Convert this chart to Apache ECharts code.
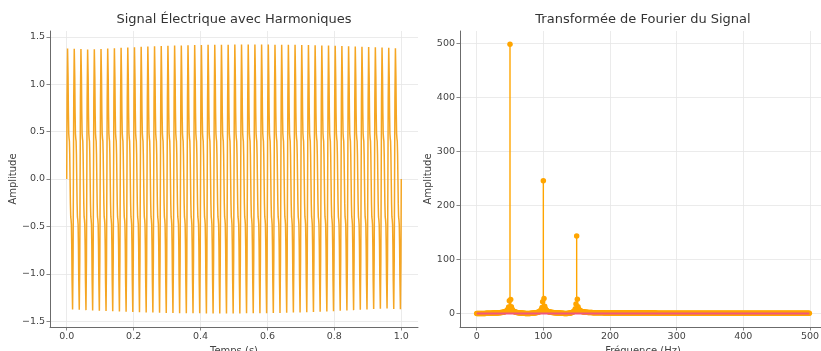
<!DOCTYPE html>
<html>
<head>
<meta charset="utf-8">
<script src="https://cdn.jsdelivr.net/npm/echarts@6/dist/echarts.min.js"></script>
<style>
html,body{margin:0;padding:0;background:#ffffff;}
#chart{width:821px;height:351px;}
</style>
</head>
<body>
<div id="chart"></div>
<script>
// ---------- Texts ----------
const leftTitle = 'Signal Électrique avec Harmoniques';
const rightTitle = 'Transformée de Fourier du Signal';
const leftXName = 'Temps (s)';
const rightXName = 'Fréquence (Hz)';
const yName = 'Amplitude';

// ---------- Tick values ----------
const timeTicks = [0.0, 0.2, 0.4, 0.6, 0.8, 1.0];
const signalTicks = [-1.5, -1.0, -0.5, 0.0, 0.5, 1.0, 1.5];
const freqTicks = [0, 100, 200, 300, 400, 500];
const fftTicks = [0, 100, 200, 300, 400, 500];

// ---------- Time signal (50 cycles) ----------
const cyclePeriodS = 0.02;
const signalEndTime = 1.0;
// shape of one cycle between its peak and trough (ms offsets within the cycle)
const waveOffsetsMs = [0, 1, 2.5, 4, 5, 6, 7, 8, 9, 10, 11, 12, 13, 14, 15, 16, 17.5, 19];
const waveShape = [0, 0.85, 'P', 1.07, 0.70, 0.48, 0.43, 0.40, 0.26, 0, -0.26, -0.40, -0.43, -0.48, -0.70, -1.07, 'T', -0.85];
const cyclePeaks = [1.378,1.375,1.371,1.366,1.368,1.372,1.376,1.380,1.384,1.388,
  1.391,1.395,1.398,1.401,1.404,1.406,1.408,1.410,1.412,1.414,
  1.415,1.416,1.417,1.418,1.418,1.419,1.419,1.419,1.419,1.419,
  1.419,1.418,1.418,1.417,1.416,1.415,1.414,1.412,1.410,1.408,
  1.406,1.404,1.401,1.399,1.396,1.393,1.390,1.387,1.384,1.381];
const cycleTroughs = [-1.378,-1.381,-1.384,-1.387,-1.390,-1.393,-1.396,-1.399,-1.401,-1.404,
  -1.406,-1.408,-1.410,-1.412,-1.414,-1.415,-1.416,-1.417,-1.418,-1.418,
  -1.419,-1.419,-1.419,-1.419,-1.419,-1.419,-1.418,-1.418,-1.417,-1.416,
  -1.415,-1.414,-1.412,-1.410,-1.408,-1.406,-1.404,-1.401,-1.398,-1.395,
  -1.391,-1.388,-1.384,-1.380,-1.376,-1.372,-1.368,-1.366,-1.371,-1.375];

// ---------- FFT amplitudes, one per 1 Hz bin (0..499 Hz) ----------
const fftBinHz = 1;
const fftAmplitude = [
0.0,0.0,0.1,0.1,0.1,0.1,0.2,0.2,0.2,0.2,
0.3,0.3,0.3,0.3,0.4,0.4,0.5,0.5,0.5,0.6,
0.6,0.6,0.7,0.7,0.8,0.8,0.9,0.9,1.0,1.1,
1.2,1.2,1.3,1.4,1.5,1.6,1.8,1.9,2.1,2.3,
2.5,2.8,3.2,3.6,4.2,5.0,6.3,8.3,12.3,23.9,
498.4,26.0,12.5,8.2,6.1,4.8,3.9,3.3,2.8,2.4,
2.1,1.9,1.7,1.5,1.3,1.2,1.1,0.9,0.8,0.7,
0.6,0.5,0.4,0.3,0.3,0.2,0.1,0.0,0.1,0.2,
0.3,0.4,0.5,0.6,0.7,0.8,1.0,1.1,1.3,1.5,
1.8,2.1,2.4,2.9,3.5,4.3,5.5,7.4,11.2,21.9,
245.7,27.8,13.4,8.9,6.7,5.4,4.5,3.9,3.4,3.0,
2.7,2.5,2.3,2.1,1.9,1.8,1.6,1.5,1.4,1.3,
1.2,1.1,1.0,1.0,0.9,0.8,0.7,0.6,0.6,0.5,
0.4,0.3,0.2,0.1,0.0,0.1,0.3,0.4,0.5,0.7,
0.9,1.2,1.5,1.9,2.4,3.1,4.1,5.8,9.0,17.8,
143.7,26.6,12.7,8.6,6.6,5.5,4.7,4.1,3.7,3.4,
3.1,2.9,2.7,2.6,2.5,2.3,2.2,2.1,2.1,2.0,
1.9,1.9,1.8,1.8,1.7,1.7,1.6,1.6,1.6,1.5,
1.5,1.5,1.4,1.4,1.4,1.4,1.3,1.3,1.3,1.3,
1.3,1.2,1.2,1.2,1.2,1.2,1.1,1.1,1.1,1.1,
1.1,1.1,1.1,1.0,1.0,1.0,1.0,1.0,1.0,1.0,
1.0,1.0,1.0,1.0,0.9,0.9,0.9,0.9,0.9,0.9,
0.9,0.9,0.9,0.9,0.9,0.9,0.9,0.9,0.9,0.9,
0.9,0.8,0.8,0.8,0.8,0.8,0.8,0.8,0.8,0.8,
0.8,0.8,0.8,0.8,0.8,0.8,0.8,0.8,0.8,0.8,
0.8,0.8,0.8,0.8,0.8,0.8,0.8,0.8,0.8,0.8,
0.8,0.8,0.8,0.8,0.8,0.8,0.8,0.8,0.8,0.8,
0.7,0.7,0.7,0.7,0.7,0.7,0.7,0.7,0.7,0.7,
0.7,0.7,0.7,0.7,0.7,0.7,0.7,0.7,0.7,0.7,
0.7,0.7,0.7,0.7,0.7,0.7,0.7,0.7,0.7,0.7,
0.7,0.7,0.7,0.7,0.7,0.7,0.7,0.7,0.7,0.7,
0.7,0.7,0.7,0.7,0.7,0.7,0.7,0.7,0.7,0.7,
0.7,0.7,0.7,0.7,0.7,0.7,0.7,0.7,0.7,0.7,
0.6,0.6,0.6,0.6,0.6,0.6,0.6,0.6,0.6,0.6,
0.6,0.6,0.6,0.6,0.6,0.6,0.6,0.6,0.6,0.6,
0.6,0.6,0.6,0.6,0.6,0.6,0.6,0.6,0.6,0.6,
0.6,0.6,0.6,0.6,0.6,0.6,0.6,0.6,0.6,0.6,
0.6,0.6,0.6,0.6,0.6,0.6,0.6,0.6,0.6,0.6,
0.6,0.6,0.6,0.6,0.6,0.6,0.6,0.6,0.6,0.6,
0.6,0.6,0.6,0.6,0.6,0.6,0.6,0.6,0.6,0.6,
0.6,0.6,0.6,0.6,0.6,0.6,0.6,0.6,0.6,0.6,
0.6,0.6,0.6,0.6,0.6,0.6,0.6,0.6,0.6,0.6,
0.6,0.6,0.6,0.6,0.6,0.6,0.6,0.6,0.6,0.6,
0.6,0.6,0.6,0.6,0.6,0.6,0.6,0.6,0.6,0.6,
0.5,0.5,0.5,0.5,0.5,0.5,0.5,0.5,0.5,0.5,
0.5,0.5,0.5,0.5,0.5,0.5,0.5,0.5,0.5,0.5,
0.5,0.5,0.5,0.5,0.5,0.5,0.5,0.5,0.5,0.5,
0.5,0.5,0.5,0.5,0.5,0.5,0.5,0.5,0.5,0.5,
0.5,0.5,0.5,0.5,0.5,0.5,0.5,0.5,0.5,0.5,
0.5,0.5,0.5,0.5,0.5,0.5,0.5,0.5,0.5,0.5
];

// ---------- Build tables ----------
const signalData = [];
for (let c = 0; c < cyclePeaks.length; c++) {
  for (let j = 0; j < waveOffsetsMs.length; j++) {
    let v = waveShape[j];
    if (v === 'P') v = cyclePeaks[c];
    else if (v === 'T') v = cycleTroughs[c];
    signalData.push([c * cyclePeriodS + waveOffsetsMs[j] / 1000, v]);
  }
}
signalData.push([signalEndTime, 0]);

const fftData = fftAmplitude.map((a, k) => [k * fftBinHz, a]);
const baselineData = [[0, 0], [(fftAmplitude.length - 1) * fftBinHz, 0]];

// ---------- Styles ----------
const FONT = 'DejaVu Sans';
const axisColor = '#6b6b6b';
const labelColor = '#444444';
const gridColor = '#e6e6e6';
const signalColor = '#F5A623';
const stemColor = '#FFA500';
const baseColor = '#F0567C';

function minusFmt(v, dec) {
  const s = Number(v).toFixed(dec);
  return s.replace('-', '\u2212');
}

function valueAxis(gridIndex, min, max, ticks, fmt, name, nameGap, isX) {
  return {
    type: 'value', gridIndex, min, max,
    name, nameLocation: 'middle', nameGap,
    nameRotate: isX ? 0 : 90,
    nameTextStyle: {fontFamily: FONT, fontSize: 10, color: labelColor},
    axisLine: {show: true, onZero: false, lineStyle: {color: axisColor, width: 1}},
    axisTick: {show: true, inside: false, length: 3.5, customValues: ticks, lineStyle: {color: axisColor, width: 0.8}},
    axisLabel: {show: true, customValues: ticks, formatter: fmt, margin: 5,
      fontFamily: FONT, fontSize: 9.5, color: labelColor},
    splitLine: {show: true, lineStyle: {color: gridColor, width: 0.8}},
    minorTick: {show: false}
  };
}

const chart = echarts.init(document.getElementById('chart'), null, {renderer: 'canvas'});
chart.setOption({
  animation: false,
  backgroundColor: '#ffffff',
  title: [
    {text: leftTitle, left: 234, top: 13, textAlign: 'center', padding: 0,
      textStyle: {fontFamily: FONT, fontSize: 13, fontWeight: 'normal', color: '#333333'}},
    {text: rightTitle, left: 643, top: 13, textAlign: 'center', padding: 0,
      textStyle: {fontFamily: FONT, fontSize: 13, fontWeight: 'normal', color: '#333333'}}
  ],
  grid: [
    {left: 50, top: 31, width: 368, height: 296, containLabel: false, outerBoundsMode: 'none'},
    {left: 460, top: 31, width: 366, height: 296, containLabel: false, outerBoundsMode: 'none'}
  ],
  xAxis: [
    valueAxis(0, -0.05, 1.05, timeTicks, v => minusFmt(v, 1), leftXName, 13, true),
    valueAxis(1, -25, 524, freqTicks, v => minusFmt(v, 0), rightXName, 13, true)
  ],
  yAxis: [
    valueAxis(0, -1.562, 1.562, signalTicks, v => minusFmt(v, 1), yName, 25, false),
    valueAxis(1, -24.9, 523, fftTicks, v => minusFmt(v, 0), yName, 19, false)
  ],
  series: [
    {type: 'line', xAxisIndex: 0, yAxisIndex: 0, data: signalData, showSymbol: false, symbol: 'none',
      lineStyle: {color: signalColor, width: 1.5}, itemStyle: {color: signalColor}, silent: true},
    {type: 'bar', xAxisIndex: 1, yAxisIndex: 1, data: fftData, barWidth: 1.4,
      itemStyle: {color: stemColor}, silent: true, z: 2},
    {type: 'scatter', xAxisIndex: 1, yAxisIndex: 1, data: fftData, symbol: 'circle', symbolSize: 5.5,
      itemStyle: {color: stemColor, opacity: 1}, silent: true, z: 3},
    {type: 'line', xAxisIndex: 1, yAxisIndex: 1, data: baselineData, showSymbol: false, symbol: 'none',
      lineStyle: {color: baseColor, width: 2, opacity: 1}, itemStyle: {color: baseColor}, silent: true, z: 20}
  ]
});
</script>
</body>
</html>
